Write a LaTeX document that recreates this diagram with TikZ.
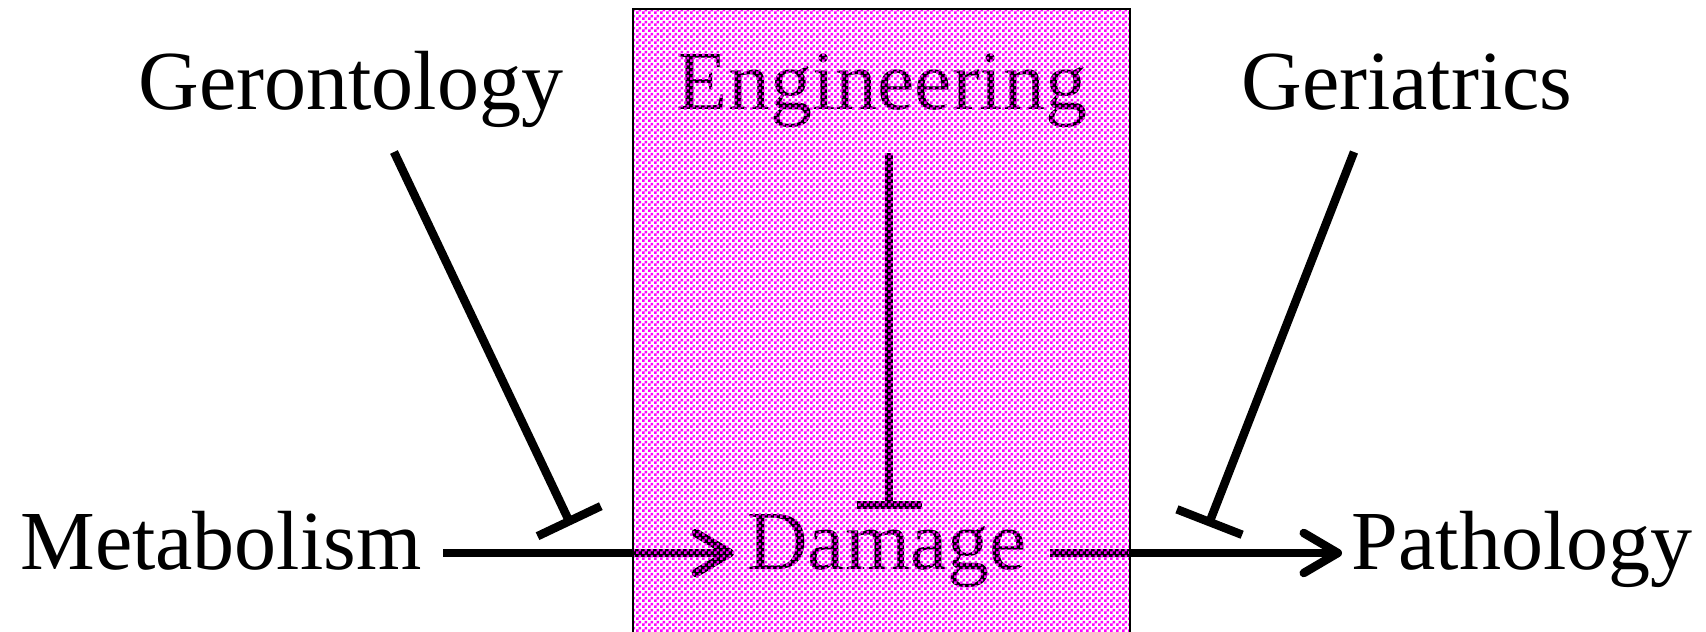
\documentclass[tikz,border=0pt]{standalone}
\usepackage{fontspec}
\setmainfont{Liberation Serif}
\usetikzlibrary{arrows.meta,patterns}
\pgfdeclarepatternformonly{checker}{\pgfpointorigin}{\pgfpoint{6pt}{6pt}}{\pgfpoint{6pt}{6pt}}{%
  \pgfpathrectangle{\pgfpointorigin}{\pgfpoint{3pt}{3pt}}%
  \pgfpathrectangle{\pgfpoint{3pt}{3pt}}{\pgfpoint{3pt}{3pt}}%
  \pgfusepath{fill}}
\begin{document}
\begin{tikzpicture}[x=1pt,y=-1pt,
  lbl/.style={anchor=base,inner sep=0pt,font=\fontsize{84}{100}\selectfont},
  stem/.style={line width=8.5pt,black},
  inhib/.style={stem,-{Bar[width=#1]}},
  act/.style={stem,-{Straight Barb[length=34pt,width=40pt,round]}}]
\useasboundingbox[fill=white] (0,0) rectangle (1706,632);
% labels
\node[lbl] (ger) at (351,109) {Gerontology};
\node[lbl] (eng) at (882,109) {Engineering};
\node[lbl] (gri) at (1407,109) {Geriatrics};
\node[lbl] (met) at (221,569) {Metabolism};
\node[lbl] (dam) at (887,569) {Damage};
\node[lbl] (pat) at (1522,569) {Pathology};
% connector ends
\coordinate (gerS) at (394,152);
\coordinate (gerE) at (571,525);
\coordinate (engS) at (889,153);
\coordinate (engE) at (889,509);
\coordinate (griS) at (1354,152);
\coordinate (griE) at (1208,526);
\coordinate (metR) at (443,553);
\coordinate (damL) at (734,553);
\coordinate (damR) at (1050,553);
\coordinate (patL) at (1342,553);
% connectors
\draw[inhib=70pt] (gerS) -- (gerE);
\draw[inhib=65pt] (engS) -- (engE);
\draw[inhib=70pt] (griS) -- (griE);
\draw[act] (metR) -- (damL);
\draw[act] (damR) -- (patL);
% patterned box
\path[pattern=checker,pattern color=magenta] (633,9) rectangle (1130,632);
\draw[line width=2pt] (633,632) -- (633,9) -- (1130,9) -- (1130,632);
\end{tikzpicture}
\end{document}
